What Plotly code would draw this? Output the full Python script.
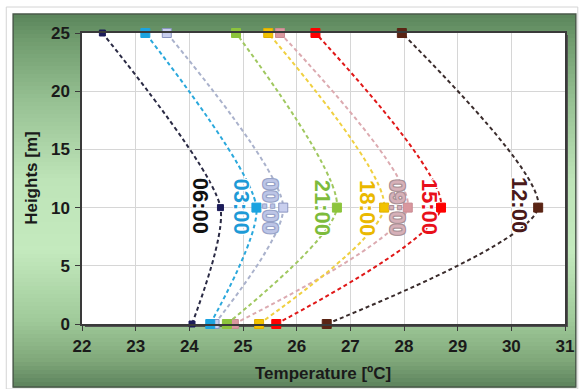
import plotly.graph_objects as go

# ---------------- data ----------------
heights = [0, 10, 25]
series_names = ["00:00", "03:00", "06:00", "09:00", "12:00", "15:00", "18:00", "21:00"]
temp_0000 = [24.47, 25.75, 23.58]
temp_0300 = [24.39, 25.25, 23.18]
temp_0600 = [24.05, 24.58, 22.38]
temp_0900 = [24.83, 28.07, 25.69]
temp_1200 = [26.56, 30.50, 27.96]
temp_1500 = [25.62, 28.69, 26.35]
temp_1800 = [25.30, 27.63, 25.47]
temp_2100 = [24.70, 26.75, 24.87]
x_ticks = [22, 23, 24, 25, 26, 27, 28, 29, 30, 31]
y_ticks = [0, 5, 10, 15, 20, 25]

series_values = [temp_0000, temp_0300, temp_0600, temp_0900,
                 temp_1200, temp_1500, temp_1800, temp_2100]

# ---------------- styles ----------------
marker_colors = ["#c9cfee", "#1ba3e0", "#1c1c5a", "#d9979e",
                 "#5a2414", "#ff0000", "#f2c200", "#8cc43c"]
marker_lines = ["#8a94c0", "#1ba3e0", "#1c1c5a", "#c98a92",
                "#5a2414", "#ff0000", "#e0b000", "#8cc43c"]
marker_sizes = [9, 9, 6, 9, 9, 9, 9, 9]
line_colors = ["#aab2cc", "#2aa8dc", "#2a2a44", "#dcaab0",
               "#3a2c2c", "#e01818", "#f0d040", "#a0c860"]
label_colors = ["#bcc5e6", "#1e9ad6", "#111111", "#d6b0b8",
                "#4a1a1a", "#e8101a", "#eab800", "#7dbb3c"]
label_glow = ["#98a3c8", "#ffffff", "#ffffff", "#a89096",
              "#ffffff", "#ffffff", "#ffffff", "#ffffff"]
label_pos_x = [25.51, 24.98, 24.21, 27.87, 30.15, 28.49, 27.32, 26.48]
label_pos_y = [10.1, 10.1, 10.2, 10.0, 10.2, 10.05, 10.0, 9.95]

FONT = "Liberation Sans, Arial, sans-serif"

# plot area in pixels
L, R, T, B = 82, 573, 33, 324
W, H = 586, 389


def px(p):
    return (p - L) / (R - L)


def py(p):
    return (B - p) / (B - T)


fig = go.Figure()

for name, vals, mc, ml, ms, lc in zip(series_names, series_values, marker_colors,
                                      marker_lines, marker_sizes, line_colors):
    fig.add_trace(go.Scatter(
        x=vals, y=heights, name=name, mode="lines+markers",
        line=dict(color=lc, width=2, dash="4px,3px", shape="spline", smoothing=0.65),
        marker=dict(symbol="square", size=ms, color=mc, line=dict(color=ml, width=1)),
        cliponaxis=False, showlegend=False,
    ))

shapes = []
# outer light border
shapes.append(dict(type="rect", xref="paper", yref="paper", layer="below",
                   x0=px(5), x1=px(586), y0=py(389), y1=py(7),
                   line=dict(color="#d4d4d4", width=1), fillcolor="white"))

# green gradient frame (vertical)
stops = [(14, (90, 132, 90)), (40, (112, 156, 110)), (100, (150, 192, 146)),
         (180, (190, 228, 184)), (250, (196, 234, 190)), (320, (160, 202, 154)),
         (360, (128, 168, 122)), (387, (92, 130, 92))]


def col_at(y):
    for (y0, c0), (y1, c1) in zip(stops[:-1], stops[1:]):
        if y0 <= y <= y1:
            t = (y - y0) / (y1 - y0)
            return "rgb(%d,%d,%d)" % tuple(round(a + (b - a) * t) for a, b in zip(c0, c1))
    return "rgb(%d,%d,%d)" % stops[-1][1]


step = 4
y = 14
while y < 387:
    y2 = min(y + step, 387)
    shapes.append(dict(type="rect", xref="paper", yref="paper", layer="below",
                       x0=px(12), x1=px(584), y0=py(y2 + 0.5), y1=py(y),
                       line=dict(width=0), fillcolor=col_at((y + y2) / 2)))
    y = y2
shapes.append(dict(type="rect", xref="paper", yref="paper", layer="below",
                   x0=px(12), x1=px(584), y0=py(387), y1=py(14),
                   line=dict(color="#4a5a4a", width=1.5), fillcolor="rgba(0,0,0,0)"))
# plot shadow
shapes.append(dict(type="rect", xref="paper", yref="paper", layer="below",
                   x0=px(L + 3), x1=px(R + 3), y0=py(B + 3), y1=py(T + 2),
                   line=dict(width=0), fillcolor="#505050"))
# plot area
shapes.append(dict(type="rect", xref="paper", yref="paper", layer="below",
                   x0=0, x1=1, y0=0, y1=1,
                   line=dict(width=0), fillcolor="white"))

annotations = []
for name, lx, ly, c, g in zip(series_names, label_pos_x, label_pos_y, label_colors, label_glow):
    sh = ", ".join("%dpx %dpx 0.6px %s" % (a, b, g)
                   for a, b in [(1, 1), (-1, -1), (1, -1), (-1, 1)])
    annotations.append(dict(x=lx, y=ly, xref="x", yref="y", text="<b>%s</b>" % name,
                            showarrow=False, textangle=90,
                            xanchor="center", yanchor="middle",
                            font=dict(family=FONT, size=22, color=c, shadow=sh)))

annotations.append(dict(x=px(30), y=py(178), xref="paper", yref="paper",
                        text="<b>Heights [m]</b>", showarrow=False, textangle=-90,
                        xanchor="center", yanchor="middle",
                        font=dict(family=FONT, size=17, color="#1a1a1a")))
annotations.append(dict(x=px(327), y=py(373), xref="paper", yref="paper",
                        text="<b>Temperature [ºC]</b>", showarrow=False,
                        xanchor="center", yanchor="middle",
                        font=dict(family=FONT, size=17, color="#1a1a1a")))

axis_common = dict(showgrid=True, gridcolor="#d6d6d6", gridwidth=1,
                   showline=True, linecolor="#3a3a3a", linewidth=1.5, mirror=True,
                   ticks="outside", ticklen=5, tickcolor="#3a3a3a",
                   tickfont=dict(family=FONT, size=17, color="#1a1a1a"),
                   zeroline=False, fixedrange=True)

fig.update_layout(
    width=W, height=H,
    margin=dict(l=L, r=W - R, t=T, b=H - B),
    paper_bgcolor="white", plot_bgcolor="rgba(0,0,0,0)",
    shapes=shapes, annotations=annotations,
    font=dict(family=FONT),
    xaxis=dict(range=[22, 31], tickvals=x_ticks,
               ticktext=["<b>%d</b>" % v for v in x_ticks],
               ticklabelstandoff=1, **axis_common),
    yaxis=dict(range=[0, 25], tickvals=y_ticks,
               ticktext=["<b>%d</b>" % v for v in y_ticks],
               ticklabelstandoff=2, **axis_common),
)

fig.write_html("out.html")
